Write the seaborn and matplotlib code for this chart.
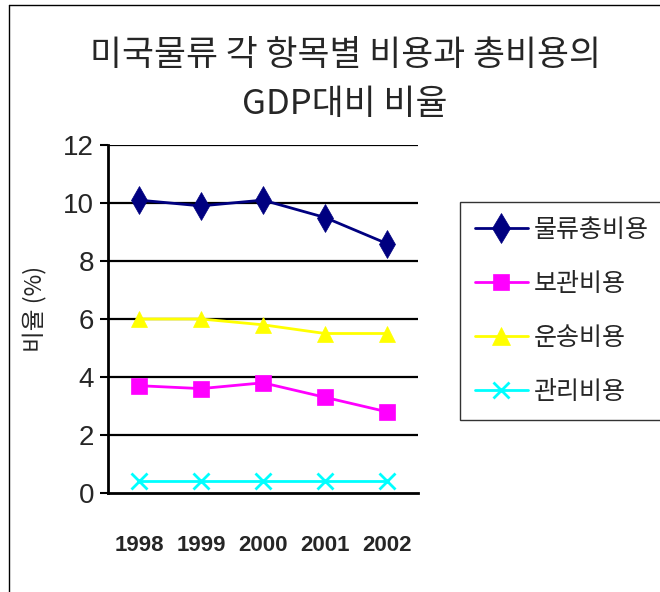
import matplotlib
matplotlib.use("Agg")
import matplotlib.pyplot as plt
import matplotlib.lines as mlines
import seaborn as sns
import pandas as pd

years = ["1998", "1999", "2000", "2001", "2002"]
series_names = ["물류총비용", "보관비용", "운송비용", "관리비용"]
total_cost = [10.1, 9.9, 10.1, 9.5, 8.6]
storage_cost = [3.7, 3.6, 3.8, 3.3, 2.8]
transport_cost = [6.0, 6.0, 5.8, 5.5, 5.5]
admin_cost = [0.4, 0.4, 0.4, 0.4, 0.4]
y_ticks = [0, 2, 4, 6, 8, 10, 12]

title_text = "미국물류 각 항목별 비용과 총비용의\nGDP대비 비율"
ylabel_text = "비율 (%)"

sns.set_theme(style="white")
plt.rcParams['font.family'] = ['Noto Sans CJK KR', 'DejaVu Sans']

fig = plt.figure(figsize=(6.6, 5.92), dpi=100)
ax = fig.add_axes([108/660, 1-493/592, (418-108)/660, (493-145)/592])

values = [total_cost, storage_cost, transport_cost, admin_cost]
colors = ["#000080", "#FF00FF", "#FFFF00", "#00FFFF"]
markers = ["d", "s", "^", "x"]
msizes = [14, 11, 12, 11]

rows = []
for name, vals in zip(series_names, values):
    for i, v in enumerate(vals):
        rows.append({"pos": i, "year": years[i], "series": name, "value": v})
df = pd.DataFrame(rows)

handles = []
for name, col, mk, ms in zip(series_names, colors, markers, msizes):
    sub = df[df["series"] == name]
    sns.lineplot(data=sub, x="pos", y="value", color=col, marker=mk,
                 markersize=ms, markeredgecolor=col, markeredgewidth=2 if mk == "x" else 0.5,
                 linewidth=2, ax=ax, legend=False)
    handles.append(mlines.Line2D([], [], color=col, marker=mk, markersize=ms + 1,
                                 markeredgecolor=col,
                                 markeredgewidth=2 if mk == "x" else 0.5,
                                 linewidth=2, label=name))

ax.set_xlim(-0.5, 4.5)
ax.set_ylim(0, 12)
ax.set_yticks(y_ticks)
ax.set_yticklabels([str(t) for t in y_ticks], fontsize=20, family=['Liberation Sans', 'DejaVu Sans'])
ax.set_xticks(range(len(years)))
ax.set_xticklabels(years, fontsize=16, fontweight='bold',
                   family=['Liberation Sans Narrow', 'Liberation Sans', 'DejaVu Sans'])
ax.set_xticks([i - 0.5 for i in range(len(years) + 1)], minor=True)
ax.tick_params(axis='x', which='major', length=0, pad=30)
ax.tick_params(axis='x', which='minor', length=6, width=1.5, color='black', direction='out')
ax.tick_params(axis='y', length=6, width=1.5, color='black', direction='out', left=True, pad=4)
ax.set_xlabel("")
ax.set_ylabel(ylabel_text, fontsize=17, labelpad=18)
ax.yaxis.set_label_coords(-0.2, 0.53)

for t in y_ticks[1:]:
    ax.axhline(t, color='black', linewidth=1.6, zorder=0)
for s in ["top", "right"]:
    ax.spines[s].set_visible(False)
for s in ["left", "bottom"]:
    ax.spines[s].set_color('black')
    ax.spines[s].set_linewidth(2)

fig.text(345/660, 1-80/592, title_text, ha='center', va='center', fontsize=25,
         fontweight='light', linespacing=1.5)

leg = fig.legend(handles=handles, loc='upper left', bbox_to_anchor=(460/660, 1-202/592),
                 fontsize=18, frameon=True, fancybox=False, handlelength=2.1,
                 handletextpad=0.25, labelspacing=1.12, borderpad=0.6, borderaxespad=0)
leg.get_frame().set_edgecolor('black')
leg.get_frame().set_linewidth(1)

# figure border (top and left)
fig.add_artist(mlines.Line2D([9/660, 1], [1-5/592, 1-5/592], color='black', linewidth=1, transform=fig.transFigure))
fig.add_artist(mlines.Line2D([9/660, 9/660], [0, 1-5/592], color='black', linewidth=1, transform=fig.transFigure))

fig.savefig("out.png", dpi=100)
